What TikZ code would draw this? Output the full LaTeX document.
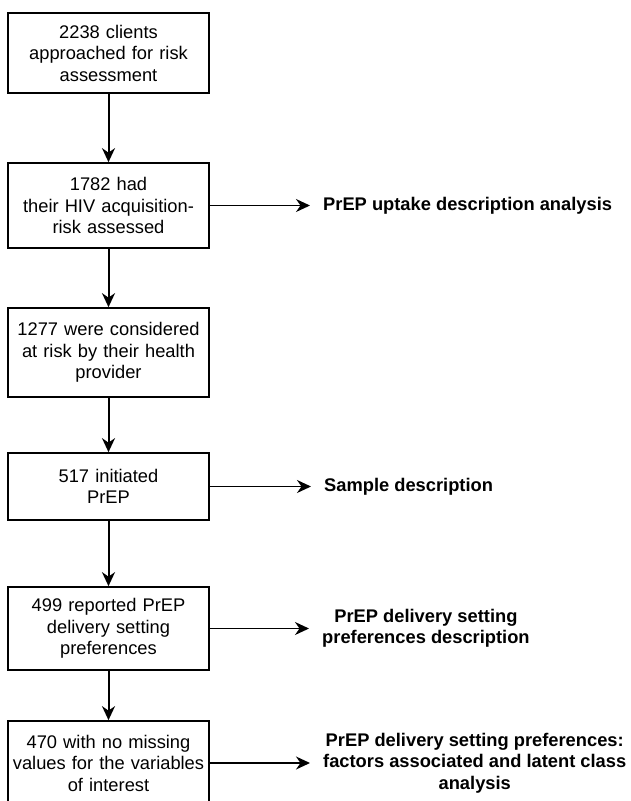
\documentclass[tikz,border=0pt]{standalone}
\usepackage{fontspec}
\setmainfont{Liberation Sans}
\usetikzlibrary{arrows.meta}

\begin{document}
\begin{tikzpicture}[x=1pt, y=1pt, >={Stealth[length=14pt, width=13pt, inset=4.5pt]},
	box/.style={rectangle, draw=black, line width=1.7pt, minimum width=201pt, text width=192pt, align=center, inner sep=0pt, font=\fontsize{18.3}{21.5}\selectfont},
	outcome/.style={anchor=west, inner sep=0pt, align=center, font=\fontsize{18.3}{21.5}\selectfont\bfseries},
	flow/.style={->, line width=2pt},
	side/.style={->, line width=1.6pt, shorten >=13pt}]
	
	\useasboundingbox (0,0) rectangle (630,-801);
	
	% Kasten links
	\node[box, minimum height=80pt](a) at (108.5,-53) {2238 clients\\approached for risk\\assessment};
	\node[box, minimum height=85pt](b) at (108.5,-205.5) {1782 had\\their HIV acquisition-\\risk assessed};
	\node[box, minimum height=89pt](c) at (108.5,-352.5) {1277 were considered\\at risk by their health\\provider};
	\node[box, minimum height=67pt](d) at (108.5,-486.5) {517 initiated\\PrEP};
	\node[box, minimum height=83pt](e) at (108.5,-628.5) {499 reported PrEP\\delivery setting\\preferences};
	\node[box, minimum height=84pt](f) at (108.5,-763) {470 with no missing\\values for the variables\\of interest};
	
	% Analysen rechts
	\node[outcome](B) at (323,-205.5) {PrEP uptake description analysis};
	\node[outcome](D) at (324,-486.5) {Sample description};
	\node[outcome](E) at (322,-628.5) {PrEP delivery setting\\preferences description};
	\node[outcome](F) at (323,-763) {PrEP delivery setting preferences:\\factors associated and latent class\\analysis};
	
	% vertikale Pfeile
	\draw[flow](a) -- (b);
	\draw[flow](b) -- (c);
	\draw[flow](c) -- (d);
	\draw[flow](d) -- (e);
	\draw[flow](e) -- (f);
	
	% horizontale Pfeile
	\draw[side](b.east) -- (B.west);
	\draw[side](d.east) -- (D.west);
	\draw[side](e.east) -- (E.west);
	\draw[side](f.east) -- (F.west);
	
\end{tikzpicture}
\end{document}
